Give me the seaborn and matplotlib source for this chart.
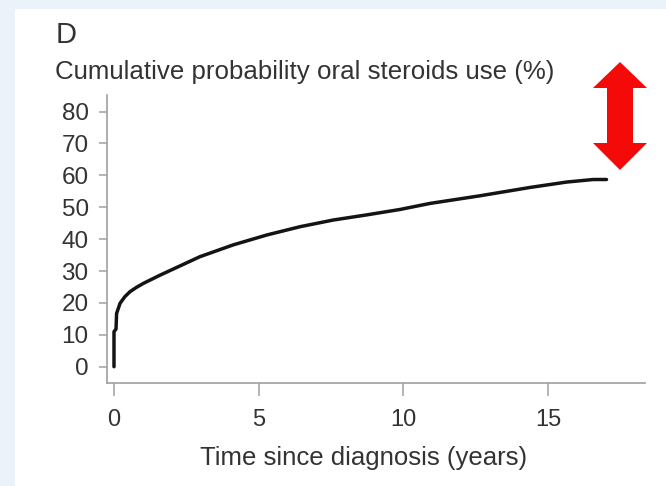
import numpy as np
import matplotlib
matplotlib.use("Agg")
import matplotlib.pyplot as plt
from matplotlib.patches import Rectangle, Polygon
import seaborn as sns

# ---- data ----
time_years = [0, 0, 0.07, 0.09, 0.21, 0.38, 0.55, 0.78, 1.01, 1.59, 2.28, 2.97, 4.12,
              5.28, 6.43, 7.58, 8.73, 9.88, 10.92, 12.65, 14.37, 15.64, 16.56, 17.02]
cum_prob = [0, 11.0, 11.8, 16.7, 19.9, 22.0, 23.5, 24.9, 26.1, 28.7, 31.6, 34.5, 38.2,
            41.3, 43.9, 46.0, 47.6, 49.3, 51.2, 53.6, 56.2, 57.9, 58.7, 58.7]
x_ticks = [0, 5, 10, 15]
y_ticks = [0, 10, 20, 30, 40, 50, 60, 70, 80]
panel_letter = "D"
y_title = "Cumulative probability oral steroids use (%)"
x_label = "Time since diagnosis (years)"

sns.set_theme(style="ticks")
plt.rcParams["font.family"] = ["Liberation Sans", "DejaVu Sans"]

W, H = 666, 486
fig = plt.figure(figsize=(W / 100, H / 100), dpi=100)

# background (light blue frame with white panel)
bg = fig.add_axes([0, 0, 1, 1], zorder=-10)
bg.set_axis_off()
bg.add_patch(Rectangle((0, 0), W, H, color="#ecf2f9", lw=0))
grad = np.linspace(0, 1, 50)
c0 = np.array([0.80, 0.87, 0.95])
c1 = np.array([0.89, 0.93, 0.98])
img = (c0[None, :] * (1 - grad[:, None]) + c1[None, :] * grad[:, None])[None, :, :]
bg.imshow(img, extent=[0, 15, H, 0], aspect="auto")
bg.add_patch(Rectangle((15, 9), W - 15, H - 9, color="white", lw=0))
bg.set_xlim(0, W)
bg.set_ylim(H, 0)

# main axes
ax = fig.add_axes([106.7 / W, 1 - 383 / H, (645 - 106.7) / W, (383 - 95) / H])
ax.set_facecolor("none")
sns.lineplot(x=time_years, y=cum_prob, ax=ax, estimator=None, sort=False,
             color="#141414", lw=2.5)
ax.set_xlim(-0.252, 18.35)
ax.set_ylim(-5.11, 85.2)
ax.set_xticks(x_ticks)
ax.set_yticks(y_ticks)
ax.set_xticklabels([str(v) for v in x_ticks])
ax.set_yticklabels([str(v) for v in y_ticks])
for s in ["top", "right"]:
    ax.spines[s].set_visible(False)
for s in ["left", "bottom"]:
    ax.spines[s].set_color("#a0a0a0")
    ax.spines[s].set_linewidth(1.2)
ax.tick_params(axis="x", length=9, width=1.1, color="#a0a0a0", pad=10,
               labelsize=17, labelcolor="#333333")
ax.tick_params(axis="y", length=6, width=1.1, color="#a0a0a0", pad=7,
               labelsize=17.5, labelcolor="#333333")
ax.set_xlabel(x_label, fontsize=18.5, color="#333333", labelpad=12)
ax.xaxis.set_label_coords((364 - 106.7) / (645 - 106.7), -0.22)
ax.set_ylabel("")

# panel letter and y title
fig.text(56 / W, 1 - 43 / H, panel_letter, fontsize=21, color="#333333", va="baseline", ha="left")
fig.text(55 / W, 1 - 79 / H, y_title, fontsize=18.6, color="#333333", va="baseline", ha="left")

# red double-headed arrow (overlay)
ov = fig.add_axes([0, 0, 1, 1], zorder=10)
ov.set_axis_off()
ov.set_facecolor("none")
ov.set_xlim(0, W)
ov.set_ylim(H, 0)
cx = 620
arrow = [(cx, 62), (647, 88), (633, 88), (633, 143), (647, 143), (cx, 170),
         (593, 143), (607, 143), (607, 88), (593, 88)]
ov.add_patch(Polygon(arrow, closed=True, color="#f50a0a", lw=0))

fig.savefig("out.png", dpi=100)
